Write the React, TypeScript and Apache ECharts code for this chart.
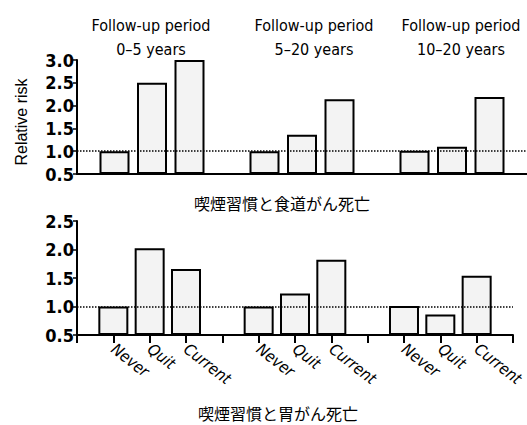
import React, { useEffect, useRef } from "react";
import * as echarts from "echarts";

const categories = ["", "Never", "Quit", "Current", "", "Never", "Quit", "Current", "", "Never", "Quit", "Current", ""];
// values per group: Never, Quit, Current for follow-up 0-5, 5-20, 10-20 years
const esophagus = [1.0, 2.5, 3.0, 1.0, 1.36, 2.14, 1.01, 1.1, 2.19];
const stomach = [1.0, 2.02, 1.66, 1.0, 1.23, 1.82, 1.01, 0.86, 1.54];
const periodTitles = ["Follow-up period\n0–5 years", "Follow-up period\n5–20 years", "Follow-up period\n10–20 years"];
const upperCaption = "喫煙習慣と食道がん死亡";
const lowerCaption = "喫煙習慣と胃がん死亡";
const yAxisName = "Relative risk";

const toSlots = (vals: number[]) => {
  const out: (number | null)[] = [null];
  for (let g = 0; g < 3; g++) {
    out.push(vals[g * 3], vals[g * 3 + 1], vals[g * 3 + 2]);
    out.push(null);
  }
  return out;
};

const NARROW = "Liberation Sans Narrow, DejaVu Sans Condensed, Liberation Sans, sans-serif";

export default function App() {
  const ref = useRef<HTMLDivElement>(null);
  useEffect(() => {
    if (!ref.current) return;
    const chart = echarts.init(ref.current, null, { renderer: "svg" });
    const barStyle = { color: "#f3f3f3", borderColor: "#000", borderWidth: 2 };
    const markLine = {
      silent: true,
      symbol: "none",
      label: { show: false },
      lineStyle: { type: "dotted", color: "#000", width: 1.5 },
      data: [{ yAxis: 1.0 }],
    };
    const yLabel = {
      color: "#000",
      fontFamily: NARROW,
      fontWeight: "bold",
      fontSize: 18,
      margin: 3,
      formatter: (v: number) => v.toFixed(1),
    };
    const yTick = { show: true, length: 4, lineStyle: { color: "#000", width: 1.5 } };
    const titlePos = [151, 314, 461];
    chart.setOption({
      animation: false,
      backgroundColor: "#fff",
      grid: [
        { left: 77, top: 60, right: 0, bottom: 251 },
        { left: 77, top: 221, right: 0, bottom: 90 },
      ],
      xAxis: [
        {
          gridIndex: 0,
          type: "category",
          data: categories,
          boundaryGap: false,
          axisLine: { lineStyle: { color: "#000", width: 2 } },
          axisTick: { show: false },
          axisLabel: { show: false },
          splitLine: { show: false },
        },
        {
          gridIndex: 1,
          type: "category",
          data: categories,
          boundaryGap: false,
          axisLine: { lineStyle: { color: "#000", width: 2 } },
          axisTick: { show: true, interval: 0, length: 8, lineStyle: { color: "#000", width: 2 } },
          axisLabel: {
            interval: 0,
            rotate: -38,
            margin: 12,
            color: "#000",
            fontFamily: NARROW,
            fontStyle: "italic",
            fontSize: 16,
          },
          splitLine: { show: false },
        },
      ],
      yAxis: [
        {
          gridIndex: 0,
          type: "value",
          min: 0.5,
          max: 3.0,
          interval: 0.5,
          startValue: 0.5,
          axisLine: { show: true, lineStyle: { color: "#000", width: 2 } },
          axisTick: yTick,
          axisLabel: yLabel,
          splitLine: { show: false },
        },
        {
          gridIndex: 1,
          type: "value",
          min: 0.5,
          max: 2.5,
          interval: 0.5,
          startValue: 0.5,
          axisLine: { show: true, lineStyle: { color: "#000", width: 2 } },
          axisTick: yTick,
          axisLabel: yLabel,
          splitLine: { show: false },
        },
      ],
      series: [
        {
          type: "bar",
          xAxisIndex: 0,
          yAxisIndex: 0,
          data: toSlots(esophagus),
          barWidth: 30,
          itemStyle: barStyle,
          markLine,
        },
        {
          type: "bar",
          xAxisIndex: 1,
          yAxisIndex: 1,
          data: toSlots(stomach),
          barWidth: 30,
          itemStyle: barStyle,
          markLine,
        },
      ],
      graphic: [
        ...periodTitles.map((t, i) => ({
          type: "text",
          x: titlePos[i],
          y: 13,
          style: {
            text: t,
            align: "center",
            verticalAlign: "top",
            fill: "#000",
            fontSize: 16,
            fontFamily: NARROW,
            lineHeight: 24,
          },
        })),
        {
          type: "text",
          x: 21,
          y: 122,
          rotation: Math.PI / 2,
          style: {
            text: yAxisName,
            align: "center",
            verticalAlign: "middle",
            fill: "#000",
            fontSize: 16,
            fontFamily: "Liberation Sans, Arial, sans-serif",
          },
        },
        {
          type: "text",
          x: 282,
          y: 203,
          style: {
            text: upperCaption,
            align: "center",
            verticalAlign: "middle",
            fill: "#000",
            fontSize: 16,
            fontFamily: "Noto Sans CJK JP, sans-serif",
          },
        },
        {
          type: "text",
          x: 278,
          y: 413,
          style: {
            text: lowerCaption,
            align: "center",
            verticalAlign: "middle",
            fill: "#000",
            fontSize: 16,
            fontFamily: "Noto Sans CJK JP, sans-serif",
          },
        },
      ],
    });
    return () => chart.dispose();
  }, []);
  return <div ref={ref} style={{ position: "fixed", left: 0, top: 0, width: 527, height: 425 }} />;
}
